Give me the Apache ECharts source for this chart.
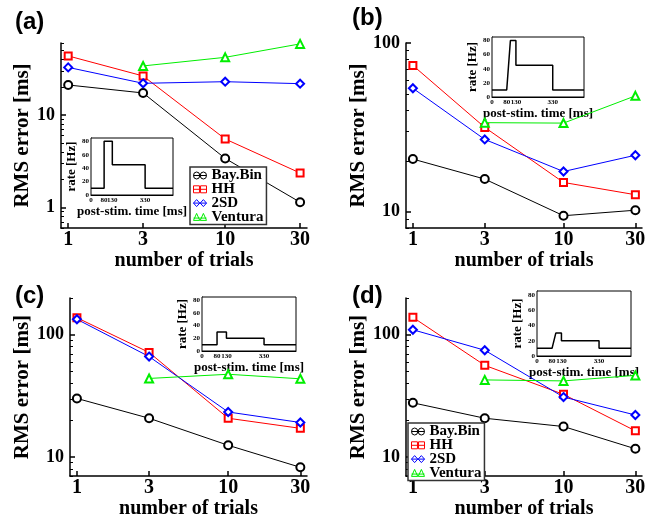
<!DOCTYPE html>
<html><head><meta charset="utf-8">
<script src="https://cdn.jsdelivr.net/npm/echarts@6/dist/echarts.min.js"></script>
<style>html,body{margin:0;padding:0;background:#fff}#c{width:654px;height:520px}</style>
</head><body><div id="c"></div>
<script>
// ---------- data ----------
const trials = [1, 3, 10, 30];
const seriesNames = ['Bay.Bin', 'HH', '2SD', 'Ventura'];

const aBay = [21.1, 17.3, 3.39, 1.14];
const aHH  = [43.5, 26.4, 5.5, 2.36];
const a2SD = [32.7, 22.0, 22.9, 21.8];
const aVen = [null, 33.9, 42.0, 58.7];

const bBay = [20.5, 15.6, 9.46, 10.2];
const bHH  = [73.6, 31.6, 14.9, 12.6];
const b2SD = [53.9, 26.8, 17.3, 21.6];
const bVen = [null, 33.7, 33.5, 48.6];

const cBay = [30.2, 20.8, 12.5, 8.26];
const cHH  = [138, 71.8, 20.8, 17.2];
const c2SD = [134, 66.4, 23.4, 19.2];
const cVen = [null, 44.0, 47.6, 43.7];

const dBay = [27.8, 20.8, 17.8, 11.7];
const dHH  = [139, 56.3, 32.6, 16.4];
const d2SD = [110, 74.8, 31.0, 22.1];
const dVen = [null, 42.8, 42.0, 46.6];

// inset stimulus rate profiles
const stimTimeStep = [0, 80, 80, 130, 130, 330, 330, 500];
const stimTimeRamp = [0, 80, 100, 130, 130, 330, 330, 500];
const rateA = [10, 10, 80, 80, 45, 45, 10, 10];
const rateB = [10, 10, 80, 80, 45, 45, 10, 10];
const rateC = [10, 10, 30, 30, 20, 20, 10, 10];
const rateD = [10, 10, 30, 30, 20, 20, 10, 10];

// tick labels
const xTickLabels = [1, 3, 10, 30];
const yMajorA = [1, 10];
const yMinorA = [0.6, 0.7, 0.8, 0.9, 2, 3, 4, 5, 6, 7, 8, 9, 20, 30, 40, 50, 60];
const yMajorB = [10, 100];
const yMinorB = [8, 9, 20, 30, 40, 50, 60, 70, 80, 90];
const yMajorCD = [10, 100];
const yMinorCD = [7, 8, 9, 20, 30, 40, 50, 60, 70, 80, 90, 200];
const insetXTicks = [0, 80, 130, 330];
const insetYTicks = [0, 20, 40, 60, 80];

// ---------- styles / layout ----------
const SERIF = '"Liberation Serif","Times New Roman",serif';
const SANS = '"Liberation Sans",Arial,sans-serif';
const colors = ['#000000', '#ff0000', '#0000ff', '#00ee00'];
const symbols = ['emptyCircle', 'emptyRect', 'emptyDiamond', 'emptyTriangle'];
const symSizes = [8, 7, 8, 8];
const legendIcons = [
  'path://M0.5,7 A6,6 0 1 1 12.5,7 A6,6 0 1 1 0.5,7 Z M13.5,7 A6,6 0 1 1 25.5,7 A6,6 0 1 1 13.5,7 Z M0.5,7 L25.5,7',
  'path://M1,1 L12,1 L12,13 L1,13 Z M14,1 L25,1 L25,13 L14,13 Z M1,7 L25,7',
  'path://M0.5,7 L6.5,1 L12.5,7 L6.5,13 Z M13.5,7 L19.5,1 L25.5,7 L19.5,13 Z M0.5,7 L25.5,7',
  'path://M0.5,13 L6.5,1 L12.5,13 Z M13.5,13 L19.5,1 L25.5,13 Z M0.5,9 L25.5,9'
];

const panels = [
  { letter: '(a)', letterPos: [15, 10], grid: { left: 61, top: 43, width: 246, height: 185 },
    yMin: 0.6, yMax: 60, yMajor: yMajorA, yMinor: yMinorA, yNameGap: 24,
    data: [aBay, aHH, a2SD, aVen],
    inset: { left: 91, top: 138, width: 82, height: 57 }, insetT: stimTimeStep, insetR: rateA },
  { letter: '(b)', letterPos: [352, 6], grid: { left: 406, top: 43, width: 236, height: 185 },
    yMin: 8, yMax: 100, yMajor: yMajorB, yMinor: yMinorB, yNameGap: 33,
    data: [bBay, bHH, b2SD, bVen],
    inset: { left: 492, top: 37, width: 92, height: 60 }, insetT: stimTimeRamp, insetR: rateB },
  { letter: '(c)', letterPos: [15, 284], grid: { left: 70, top: 298, width: 237, height: 183 },
    yMin: 7, yMax: 200, yMajor: yMajorCD, yMinor: yMinorCD, yNameGap: 33,
    data: [cBay, cHH, c2SD, cVen],
    inset: { left: 202, top: 297, width: 94, height: 54 }, insetT: stimTimeStep, insetR: rateC },
  { letter: '(d)', letterPos: [352, 284], grid: { left: 406, top: 298, width: 236, height: 183 },
    yMin: 7, yMax: 200, yMajor: yMajorCD, yMinor: yMinorCD, yNameGap: 33,
    data: [dBay, dHH, d2SD, dVen],
    inset: { left: 537, top: 291, width: 94, height: 65 }, insetT: stimTimeRamp, insetR: rateD }
];

const grids = [], xAxes = [], yAxes = [], series = [], graphics = [];
const axisLineStyle = { color: '#000', width: 1.5 };

panels.forEach(p => {
  const g = grids.length;
  grids.push(Object.assign({ containLabel: false }, p.grid));
  const xi = xAxes.length;
  xAxes.push({
    type: 'log', logBase: 10, gridIndex: g, position: 'bottom', min: 0.9, max: 33.2,
    axisLine: { show: true, onZero: false, lineStyle: axisLineStyle },
    axisTick: { show: true, inside: true, length: 5, customValues: xTickLabels, lineStyle: axisLineStyle },
    minorTick: { show: false }, splitLine: { show: false },
    axisLabel: { show: true, customValues: xTickLabels, margin: 2, formatter: v => String(v),
      fontFamily: SERIF, fontWeight: 'bold', fontSize: 20, color: '#000' },
    name: 'number of trials', nameLocation: 'middle', nameGap: 22,
    nameTextStyle: { fontFamily: SERIF, fontWeight: 'bold', fontSize: 20, color: '#000' }
  });
  const yi = yAxes.length;
  yAxes.push({
    type: 'log', logBase: 10, gridIndex: g, position: 'left', min: p.yMin, max: p.yMax,
    axisLine: { show: true, onZero: false, lineStyle: axisLineStyle },
    axisTick: { show: true, inside: true, length: 5, customValues: p.yMajor, lineStyle: axisLineStyle },
    minorTick: { show: false }, splitLine: { show: false },
    axisLabel: { show: true, customValues: p.yMajor, margin: 6, formatter: v => String(v),
      fontFamily: SERIF, fontWeight: 'bold', fontSize: 18, color: '#000' },
    name: 'RMS error [ms]', nameLocation: 'middle', nameGap: p.yNameGap,
    nameTextStyle: { fontFamily: SERIF, fontWeight: 'bold', fontSize: 21, color: '#000' }
  });
  yAxes.push({
    type: 'log', logBase: 10, gridIndex: g, position: 'left', offset: 0, min: p.yMin, max: p.yMax,
    axisLine: { show: false }, axisLabel: { show: false }, splitLine: { show: false },
    minorTick: { show: false },
    axisTick: { show: true, inside: true, length: 3, customValues: p.yMinor, lineStyle: { color: '#000', width: 1 } }
  });
  p.data.forEach((vals, k) => {
    series.push({
      type: 'line', name: seriesNames[k], xAxisIndex: xi, yAxisIndex: yi,
      data: trials.map((t, j) => vals[j] == null ? null : [t, vals[j]]).filter(d => d),
      symbol: symbols[k], symbolSize: symSizes[k], showAllSymbol: true,
      lineStyle: { color: colors[k], width: 1 },
      itemStyle: { color: colors[k], borderColor: colors[k], borderWidth: 1 },
      emphasis: { disabled: true }, silent: true, z: 3
    });
  });

  // inset
  const ig = grids.length;
  grids.push(Object.assign({ show: true, borderColor: '#000', borderWidth: 1, backgroundColor: '#fff', containLabel: false, z: 1 }, p.inset));
  const ixi = xAxes.length;
  xAxes.push({
    type: 'value', gridIndex: ig, position: 'bottom', min: 0, max: 500,
    axisLine: { show: true, onZero: false, lineStyle: { color: '#000', width: 1 } },
    axisTick: { show: true, inside: true, length: 3, customValues: insetXTicks, lineStyle: { color: '#000', width: 1 } },
    splitLine: { show: false },
    axisLabel: { show: true, customValues: insetXTicks, margin: 2, fontFamily: SERIF, fontWeight: 'bold', fontSize: 7, color: '#000' },
    name: 'post-stim. time [ms]', nameLocation: 'middle', nameGap: 9,
    nameTextStyle: { fontFamily: SERIF, fontWeight: 'bold', fontSize: 13, color: '#000' }
  });
  const iyi = yAxes.length;
  yAxes.push({
    type: 'value', gridIndex: ig, position: 'left', min: 0, max: 85,
    axisLine: { show: true, onZero: false, lineStyle: { color: '#000', width: 1 } },
    axisTick: { show: true, inside: true, length: 3, customValues: insetYTicks, lineStyle: { color: '#000', width: 1 } },
    splitLine: { show: false },
    axisLabel: { show: true, customValues: insetYTicks, margin: 2, fontFamily: SERIF, fontWeight: 'bold', fontSize: 7, color: '#000' },
    name: 'rate [Hz]', nameLocation: 'middle', nameGap: 10,
    nameTextStyle: { fontFamily: SERIF, fontWeight: 'bold', fontSize: 13, color: '#000' }
  });
  series.push({
    type: 'line', name: 'stim' + p.letter, xAxisIndex: ixi, yAxisIndex: iyi,
    data: p.insetT.map((t, j) => [t, p.insetR[j]]),
    showSymbol: false, symbol: 'none', lineStyle: { color: '#000', width: 1.5 },
    emphasis: { disabled: true }, silent: true, z: 3
  });

  graphics.push({
    type: 'text', left: p.letterPos[0], top: p.letterPos[1],
    style: { text: p.letter, font: 'bold 24px ' + SANS, fill: '#000' }
  });
});

const legendData = seriesNames.map((n, k) => ({
  name: n, icon: legendIcons[k],
  itemStyle: { color: 'transparent', borderColor: colors[k], borderWidth: 1 }
}));
const legendCommon = {
  orient: 'vertical', data: legendData, selectedMode: false,
  itemWidth: 13, itemHeight: 7, itemGap: -1.2, symbolKeepAspect: false,
  backgroundColor: '#fff', borderColor: '#333', borderWidth: 1.5, padding: [1, 3, 0, 3],
  textStyle: { fontFamily: SERIF, fontWeight: 'bold', fontSize: 15, color: '#000', lineHeight: 13.5 }
};

const option = {
  animation: false,
  backgroundColor: '#fff',
  grid: grids,
  xAxis: xAxes,
  yAxis: yAxes,
  series: series,
  legend: [
    Object.assign({ left: 190, top: 167 }, legendCommon),
    Object.assign({ left: 408, top: 423 }, legendCommon)
  ],
  graphic: graphics
};

const chart = echarts.init(document.getElementById('c'), null, { renderer: 'canvas' });
chart.setOption(option);
</script>
</body></html>
